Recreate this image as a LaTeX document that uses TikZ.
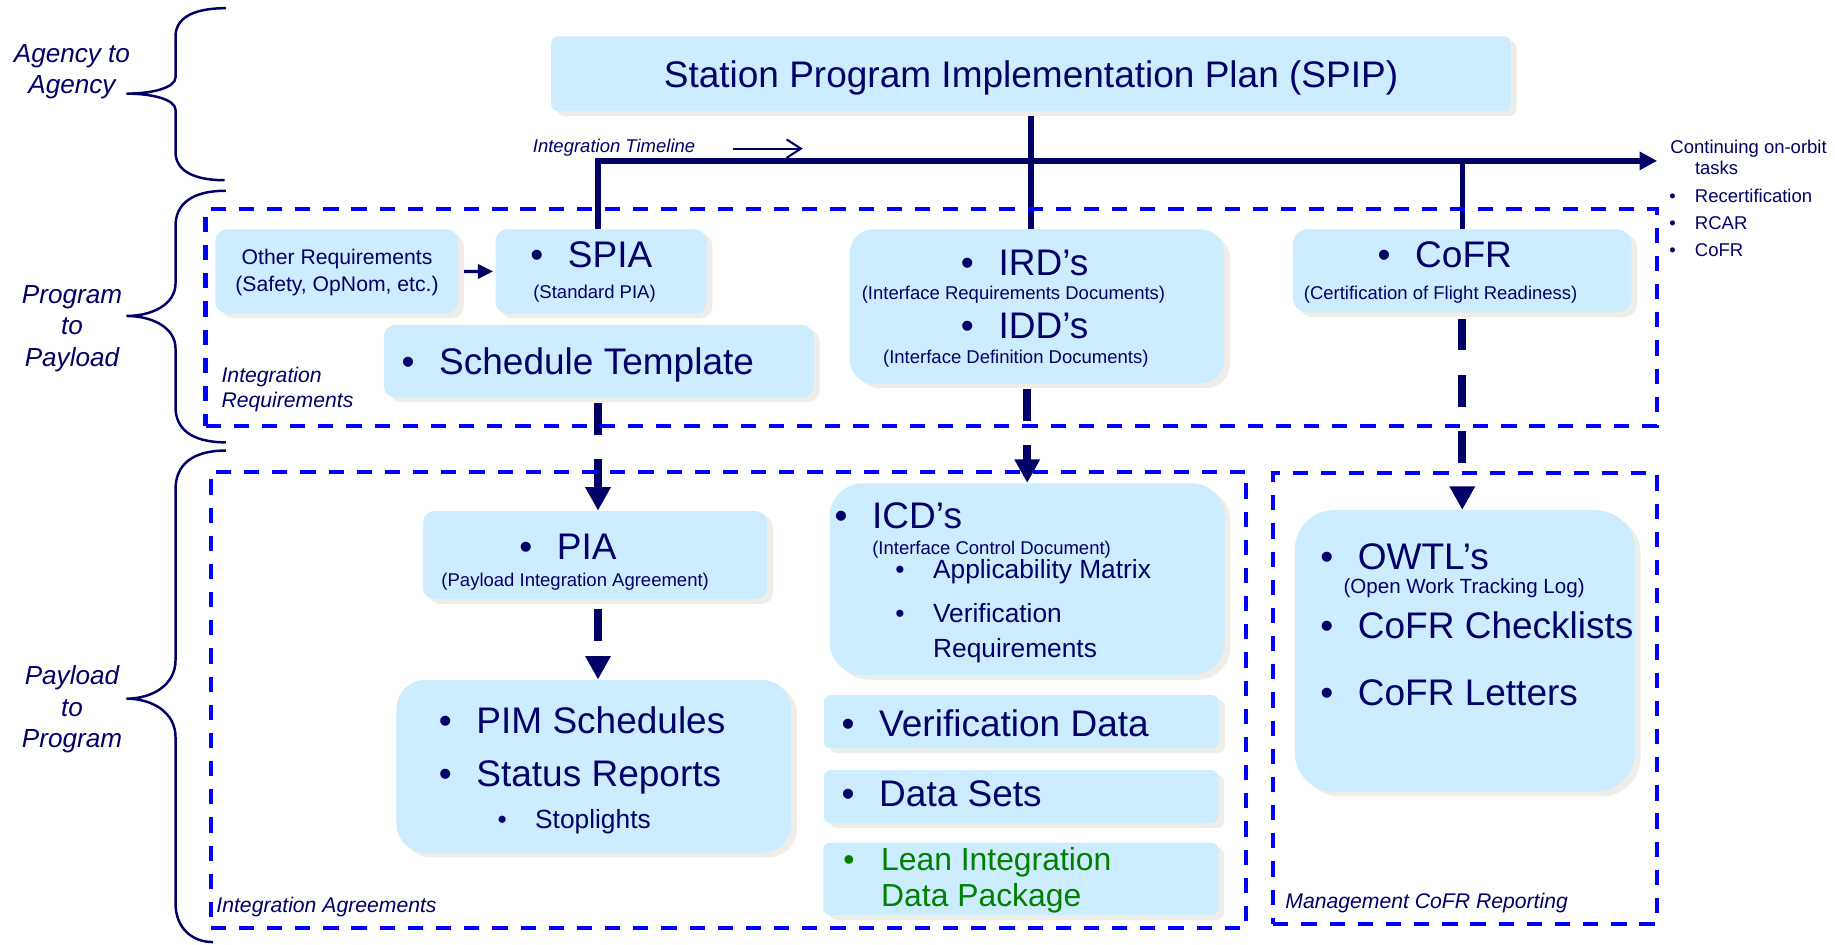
\documentclass[tikz,border=0pt]{standalone}
\usepackage{fontspec}
\setmainfont{Liberation Sans}
\usepackage{xcolor}
\usepackage{tikz}
\usetikzlibrary{arrows.meta,positioning,calc,fit,backgrounds,shadows}
\definecolor{marino}{HTML}{000066}
\definecolor{celeste}{HTML}{CCECFF}
\definecolor{sombra}{HTML}{EEEDE7}
\definecolor{trazo}{HTML}{0000FF}
\definecolor{verde}{HTML}{008000}
\newcommand{\vin}[1]{\makebox[#1][l]{\textbullet}}

\begin{document}
\begin{tikzpicture}[x=0.02cm,y=-0.02cm,
    caja/.style={fill=celeste,inner sep=0pt,rounded corners=#1,
                 drop shadow={fill=sombra,opacity=1,shadow xshift=2.8pt,shadow yshift=-2.3pt}},
    caja/.default=5.7pt,
    marco/.style={draw=trazo,line width=2pt,dash pattern=on 7.4pt off 6.3pt,inner sep=0pt},
    txt/.style={text=marino,inner sep=0pt,anchor=base west},
    grande/.style={txt,font=\fontsize{18}{21}\selectfont},
    mediana/.style={txt,font=\fontsize{12.8}{15}\selectfont},
    chica/.style={txt,font=\fontsize{9}{11}\selectfont},
    nota/.style={txt,font=\fontsize{10.3}{12}\selectfont\itshape},
    llave/.style={draw=marino,line width=1.2pt},
    enlace/.style={draw=marino,line width=2.7pt},
    salto/.style={draw=marino,line width=3.9pt,dash pattern=on 15.4pt off 11.9pt,->},
    >={Triangle[length=11.4pt,width=11.7pt]}]
  \useasboundingbox (0,0) rectangle (1568,807);

  % llaves de la izquierda
  \foreach \t/\m/\b/\e/\r/\s in {7/80/154/192/14/24,163/270/378/193/28/30,385/597/805/182/33/33}
    \draw[llave] (193,\t) .. controls (163,\t) and (150,\t+0.4*\s) .. (150,\t+\s)
      -- (150,\m-\r) .. controls (150,\m-0.35*\r) and (130,\m) .. (108,\m)
      .. controls (130,\m) and (150,\m+0.35*\r) .. (150,\m+\r)
      -- (150,\b-\s) .. controls (150,\b-0.4*\s) and (163,\b) .. (\e,\b);
  \foreach \txt/\yy [count=\i] in {Agency to/53.5,Agency/80,Program/259,to/286,Payload/313,
                                   Payload/585,to/612.5,Program/639}
    \node[txt,anchor=base,font=\fontsize{12.7}{15}\selectfont\itshape] (lado\i) at (61.5,\yy) {\txt};

  % cajas
  \node[caja=3.4pt,fit={(471,31) (1291,95)}] (spip) {};
  \node[caja,fit={(184,196) (391.5,267.7)}] (otros) {};
  \node[caja,fit={(423.5,196) (603.8,268)}] (spia) {};
  \node[caja,fit={(328,277.7) (695.4,339.6)}] (plantilla) {};
  \node[caja=11.4pt,fit={(726,196) (1046,327.5)}] (ird) {};
  \node[caja=6.8pt,fit={(1105,196) (1394,267)}] (cofr) {};
  \node[caja,fit={(361.3,436.7) (655.6,512)}] (pia) {};
  \node[caja=14pt,fit={(338.8,581) (676,728.6)}] (pim) {};
  \node[caja=16pt,fit={(709,413) (1046.5,576.8)}] (icd) {};
  \node[caja=3.4pt,fit={(704,594) (1041.7,639.4)}] (verif) {};
  \node[caja=3.4pt,fit={(704,658) (1041,703.4)}] (datos) {};
  \node[caja=3.4pt,fit={(703.5,720) (1041,782)}] (lean) {};
  \node[caja=19pt,fit={(1106.4,436) (1397,676.5)}] (owtl) {};

  % marcos discontinuos
  \node[marco,fit={(175.6,178.6) (1415.6,363.7)}] (requisitos) {};
  \node[marco,fit={(180,403) (1065,792.7)}] (acuerdos) {};
  \node[marco,fit={(1088,404.5) (1415.6,789.7)}] (gestion) {};
  \node[nota] (reqA) at (189,327) {Integration};
  \node[nota] (reqB) at (189,348) {Requirements};
  \node[nota] (acuLbl) at (184.6,780) {Integration Agreements};
  \node[nota] (gesLbl) at (1098,776) {Management CoFR Reporting};

  % textos
  \node[grande,anchor=base] (titulo) at (881,75) {Station Program Implementation Plan (SPIP)};
  \node[txt,anchor=base,font=\fontsize{10.3}{12}\selectfont] (otrosA) at (288,226) {Other Requirements};
  \node[txt,anchor=base,font=\fontsize{10.3}{12}\selectfont] (otrosB) at (288,249) {(Safety, OpNom, etc.)};
  \node[grande] (spiaT) at (452.8,229) {\vin{18.3pt}SPIA};
  \node[chica,anchor=base] (spiaS) at (508,255) {(Standard PIA)};
  \node[grande] (plantT) at (342.8,320) {\vin{18.3pt}Schedule Template};
  \node[grande] (irdT) at (820.8,235) {\vin{18.3pt}IRD’s};
  \node[chica,anchor=base] (irdS) at (866,256) {(Interface Requirements Documents)};
  \node[grande] (iddT) at (820.8,289) {\vin{18.3pt}IDD’s};
  \node[chica,anchor=base] (iddS) at (868,311) {(Interface Definition Documents)};
  \node[grande] (cofrT) at (1176.8,229) {\vin{18.3pt}CoFR};
  \node[chica,anchor=base] (cofrS) at (1231,256) {(Certification of Flight Readiness)};
  \node[grande] (piaT) at (443.4,478) {\vin{18.3pt}PIA};
  \node[chica,anchor=base] (piaS) at (491.5,501.5) {(Payload Integration Agreement)};
  \node[grande] (pimA) at (374.6,626.5) {\vin{18.3pt}PIM Schedules};
  \node[grande] (pimB) at (374.6,672.3) {\vin{18.3pt}Status Reports};
  \node[mediana] (pimC) at (424.8,707.7) {\vin{18.3pt}Stoplights};
  \node[grande] (icdT) at (712.8,452) {\vin{18.3pt}ICD’s};
  \node[chica] (icdS) at (745,474) {(Interface Control Document)};
  \node[mediana] (icdA) at (764.8,494) {\vin{18.3pt}Applicability Matrix};
  \node[mediana] (icdB) at (764.8,532) {\vin{18.3pt}Verification};
  \node[mediana] (icdC) at (797,562) {Requirements};
  \node[grande] (verifT) at (718.8,629.6) {\vin{18.3pt}Verification Data};
  \node[grande] (datosT) at (718.8,689.4) {\vin{18.3pt}Data Sets};
  \node[txt,text=verde,font=\fontsize{15.5}{18}\selectfont] (leanA) at (720.4,744) {\vin{18.3pt}Lean Integration};
  \node[txt,text=verde,font=\fontsize{15.5}{18}\selectfont] (leanB) at (752.6,775) {Data Package};
  \node[grande] (owtlA) at (1127.8,487) {\vin{18.3pt}OWTL’s};
  \node[txt,font=\fontsize{10}{12}\selectfont] (owtlS) at (1147.7,507) {(Open Work Tracking Log)};
  \node[grande] (owtlB) at (1127.8,545.5) {\vin{18.3pt}CoFR Checklists};
  \node[grande] (owtlC) at (1127.8,603) {\vin{18.3pt}CoFR Letters};

  % tareas en orbita, a la derecha de la flecha
  \node[chica] (orbA) at (1427,131) {Continuing on-orbit};
  \node[chica] (orbB) at (1448,149.5) {tasks};
  \node[chica] (orbC) at (1426,173) {\vin{12.5pt}Recertification};
  \node[chica] (orbD) at (1426,196.5) {\vin{12.5pt}RCAR};
  \node[chica] (orbE) at (1426,219.5) {\vin{12.5pt}CoFR};
  \node[chica,font=\fontsize{9}{11}\selectfont\itshape] (lineaT) at (455,130) {Integration Timeline};

  \coordinate (t0) at (511,137.5);
  \coordinate (fin) at (1416,137.5);
  \coordinate (ti) at (626,127);
  \coordinate (tf) at (686,127);
  \draw[marino,line width=1pt,-{Straight Barb[length=7pt,width=9pt]}] (ti) -- (tf);

  % conectores debajo de las cajas: la sombra tapa sus extremos
  \begin{scope}[on background layer]
    \draw[enlace] (spip.south) -- (spip.south |- ird.north);
    \draw[enlace,-{Triangle[length=8.5pt,width=8.5pt]}] (spia.north -| t0) -- (t0) -- (fin);
    \draw[enlace] (cofr.north |- fin) -- (cofr.north);
    \draw[enlace,line width=1.6pt,shorten >=1pt,-{Triangle[length=7.4pt,width=6.8pt]}] (otros) -- (spia);
    \draw[salto] ($(plantilla.south -| t0)+(0,4.4)$) -- (pia.north -| t0);
    \draw[salto] ($(pia.south -| t0)+(0,8)$) -- (pim.north -| t0);
    \draw[salto] ($(ird.south -| icd.north)+(0,4.5)$) -- (icd.north);
    \draw[salto] ($(cofr.south)+(0,5)$) -- (cofr.south |- owtl.north);
  \end{scope}
\end{tikzpicture}
\end{document}
